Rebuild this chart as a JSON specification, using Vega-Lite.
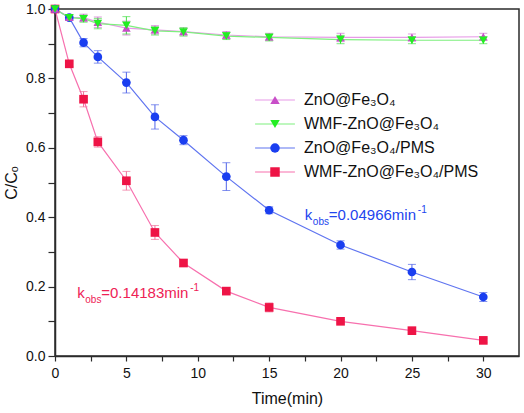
{
  "$schema": "https://vega.github.io/schema/vega-lite/v6.json",
  "width": 464,
  "height": 347,
  "autosize": "none",
  "padding": {"left": 55, "top": 9, "right": 5, "bottom": 57},
  "background": "white",
  "config": {
    "font": "Liberation Sans",
    "view": {"stroke": "#2b2b2b", "strokeWidth": 1.5},
    "axis": {
      "domainColor": "#2b2b2b", "domainWidth": 1.5,
      "tickColor": "#2b2b2b", "tickWidth": 1.2,
      "labelColor": "#111111", "titleColor": "#111111",
      "labelFont": "Liberation Sans", "titleFont": "Liberation Sans",
      "grid": false, "labelFontSize": 14, "titleFontSize": 16, "titleFontWeight": "normal"
    }
  },
  "datasets": {
    "d": [
      {"series": "WMF-ZnO@Fe₃O₄/PMS", "t": 0, "c": 1.0, "e": 0},
      {"series": "WMF-ZnO@Fe₃O₄/PMS", "t": 1, "c": 0.842, "e": 0.008},
      {"series": "WMF-ZnO@Fe₃O₄/PMS", "t": 2, "c": 0.74, "e": 0.022},
      {"series": "WMF-ZnO@Fe₃O₄/PMS", "t": 3, "c": 0.617, "e": 0.015},
      {"series": "WMF-ZnO@Fe₃O₄/PMS", "t": 5, "c": 0.505, "e": 0.027},
      {"series": "WMF-ZnO@Fe₃O₄/PMS", "t": 7, "c": 0.356, "e": 0.02},
      {"series": "WMF-ZnO@Fe₃O₄/PMS", "t": 9, "c": 0.268, "e": 0.01},
      {"series": "WMF-ZnO@Fe₃O₄/PMS", "t": 12, "c": 0.187, "e": 0.005},
      {"series": "WMF-ZnO@Fe₃O₄/PMS", "t": 15, "c": 0.14, "e": 0.013},
      {"series": "WMF-ZnO@Fe₃O₄/PMS", "t": 20, "c": 0.1, "e": 0.005},
      {"series": "WMF-ZnO@Fe₃O₄/PMS", "t": 25, "c": 0.073, "e": 0.005},
      {"series": "WMF-ZnO@Fe₃O₄/PMS", "t": 30, "c": 0.045, "e": 0.006},
      {"series": "ZnO@Fe₃O₄/PMS", "t": 0, "c": 1.0, "e": 0},
      {"series": "ZnO@Fe₃O₄/PMS", "t": 1, "c": 0.975, "e": 0.005},
      {"series": "ZnO@Fe₃O₄/PMS", "t": 2, "c": 0.903, "e": 0.012},
      {"series": "ZnO@Fe₃O₄/PMS", "t": 3, "c": 0.862, "e": 0.018},
      {"series": "ZnO@Fe₃O₄/PMS", "t": 5, "c": 0.788, "e": 0.03},
      {"series": "ZnO@Fe₃O₄/PMS", "t": 7, "c": 0.689, "e": 0.035},
      {"series": "ZnO@Fe₃O₄/PMS", "t": 9, "c": 0.622, "e": 0.013},
      {"series": "ZnO@Fe₃O₄/PMS", "t": 12, "c": 0.517, "e": 0.04},
      {"series": "ZnO@Fe₃O₄/PMS", "t": 15, "c": 0.42, "e": 0.01},
      {"series": "ZnO@Fe₃O₄/PMS", "t": 20, "c": 0.32, "e": 0.012},
      {"series": "ZnO@Fe₃O₄/PMS", "t": 25, "c": 0.242, "e": 0.022},
      {"series": "ZnO@Fe₃O₄/PMS", "t": 30, "c": 0.17, "e": 0.013},
      {"series": "ZnO@Fe₃O₄", "t": 0, "c": 1.0, "e": 0},
      {"series": "ZnO@Fe₃O₄", "t": 1, "c": 0.976, "e": 0.008},
      {"series": "ZnO@Fe₃O₄", "t": 2, "c": 0.975, "e": 0.01},
      {"series": "ZnO@Fe₃O₄", "t": 3, "c": 0.962, "e": 0.015},
      {"series": "ZnO@Fe₃O₄", "t": 5, "c": 0.945, "e": 0.02},
      {"series": "ZnO@Fe₃O₄", "t": 7, "c": 0.94, "e": 0.012},
      {"series": "ZnO@Fe₃O₄", "t": 9, "c": 0.935, "e": 0.01},
      {"series": "ZnO@Fe₃O₄", "t": 12, "c": 0.925, "e": 0.01},
      {"series": "ZnO@Fe₃O₄", "t": 15, "c": 0.92, "e": 0.01},
      {"series": "ZnO@Fe₃O₄", "t": 20, "c": 0.918, "e": 0.012},
      {"series": "ZnO@Fe₃O₄", "t": 25, "c": 0.918, "e": 0.01},
      {"series": "ZnO@Fe₃O₄", "t": 30, "c": 0.92, "e": 0.01},
      {"series": "WMF-ZnO@Fe₃O₄", "t": 0, "c": 1.0, "e": 0},
      {"series": "WMF-ZnO@Fe₃O₄", "t": 1, "c": 0.975, "e": 0.008},
      {"series": "WMF-ZnO@Fe₃O₄", "t": 2, "c": 0.972, "e": 0.01},
      {"series": "WMF-ZnO@Fe₃O₄", "t": 3, "c": 0.958, "e": 0.015},
      {"series": "WMF-ZnO@Fe₃O₄", "t": 5, "c": 0.953, "e": 0.025},
      {"series": "WMF-ZnO@Fe₃O₄", "t": 7, "c": 0.937, "e": 0.012},
      {"series": "WMF-ZnO@Fe₃O₄", "t": 9, "c": 0.934, "e": 0.012},
      {"series": "WMF-ZnO@Fe₃O₄", "t": 12, "c": 0.922, "e": 0.01},
      {"series": "WMF-ZnO@Fe₃O₄", "t": 15, "c": 0.918, "e": 0.01},
      {"series": "WMF-ZnO@Fe₃O₄", "t": 20, "c": 0.912, "e": 0.012},
      {"series": "WMF-ZnO@Fe₃O₄", "t": 25, "c": 0.91, "e": 0.01},
      {"series": "WMF-ZnO@Fe₃O₄", "t": 30, "c": 0.91, "e": 0.01}
    ],
    "notes": [
      {"grp": "blue", "t": 17.5, "c": 0.392, "k": "k", "sub": "obs", "main": "=0.04966min", "sup": "-1"},
      {"grp": "red", "t": 1.56, "c": 0.167, "k": "k", "sub": "obs", "main": "=0.14183min", "sup": "-1"}
    ]
  },
  "encoding": {
    "x": {
      "field": "t", "type": "quantitative",
      "scale": {"domain": [0, 32.5], "nice": false, "zero": false},
      "axis": {
        "title": "Time(min)",
        "values": [0, 2.5, 5, 7.5, 10, 12.5, 15, 17.5, 20, 22.5, 25, 27.5, 30],
        "labelExpr": "datum.value % 5 == 0 ? datum.label : ''",
        "tickSize": 5, "labelPadding": 5, "titlePadding": 10, "labelFlush": false
      }
    },
    "y": {
      "field": "c", "type": "quantitative",
      "scale": {"domain": [0, 1], "nice": false},
      "axis": {
        "title": "C/Cₒ",
        "values": [0, 0.1, 0.2, 0.3, 0.4, 0.5, 0.6, 0.7, 0.8, 0.9, 1.0],
        "labelExpr": "round(datum.value * 10) % 2 == 0 ? format(datum.value, '.1f') : ''",
        "tickSize": 7, "labelPadding": 3, "titlePadding": 6, "labelFlush": false
      }
    }
  },
  "layer": [
    {
      "data": {"name": "d"},
      "mark": {"type": "line", "strokeWidth": 1.2, "clip": false},
      "encoding": {
        "color": {
          "field": "series", "type": "nominal",
          "scale": {
            "domain": ["ZnO@Fe₃O₄", "WMF-ZnO@Fe₃O₄", "ZnO@Fe₃O₄/PMS", "WMF-ZnO@Fe₃O₄/PMS"],
            "range": ["#e79ae7", "#7ef07e", "#5f74f0", "#f770ae"]
          },
          "legend": {
            "title": null, "orient": "none", "legendX": 212, "legendY": 83,
            "padding": 0, "symbolType": "M-4.2,0H4.2", "symbolSize": 90,
            "symbolStrokeWidth": 1.2, "labelFontSize": 16, "labelOffset": 21,
            "labelOpacity": 0, "rowPadding": 8, "labelLimit": 300
          }
        }
      }
    },
    {
      "data": {"name": "d"},
      "mark": {"type": "errorbar", "ticks": {"size": 8}, "thickness": 1, "clip": false},
      "encoding": {
        "yError": {"field": "e"},
        "color": {
          "field": "series", "type": "nominal",
          "scale": {
            "domain": ["ZnO@Fe₃O₄", "WMF-ZnO@Fe₃O₄", "ZnO@Fe₃O₄/PMS", "WMF-ZnO@Fe₃O₄/PMS"],
            "range": ["#d070d0", "#44e044", "#5064e8", "#f0709a"]
          },
          "legend": null
        }
      }
    },
    {
      "data": {"name": "d"},
      "mark": {"type": "point", "filled": true, "size": 75, "opacity": 1, "clip": false},
      "encoding": {
        "color": {
          "field": "series", "type": "nominal",
          "scale": {
            "domain": ["ZnO@Fe₃O₄", "WMF-ZnO@Fe₃O₄", "ZnO@Fe₃O₄/PMS", "WMF-ZnO@Fe₃O₄/PMS"],
            "range": ["#c84ec8", "#22ee22", "#1a3ef0", "#ee1446"]
          },
          "legend": {
            "title": null, "orient": "none", "legendX": 212, "legendY": 83,
            "padding": 0, "symbolSize": 90, "labelFontSize": 16, "labelOffset": 21,
            "labelColor": "#111111", "rowPadding": 8, "symbolStrokeWidth": 0, "labelLimit": 300
          }
        },
        "shape": {
          "field": "series", "type": "nominal",
          "scale": {
            "domain": ["ZnO@Fe₃O₄", "WMF-ZnO@Fe₃O₄", "ZnO@Fe₃O₄/PMS", "WMF-ZnO@Fe₃O₄/PMS"],
            "range": ["triangle-up", "triangle-down", "circle", "square"]
          },
          "legend": {
            "title": null, "orient": "none", "legendX": 212, "legendY": 83,
            "padding": 0, "symbolSize": 90, "labelFontSize": 16, "labelOffset": 21,
            "labelColor": "#111111", "rowPadding": 8, "symbolStrokeWidth": 0, "labelLimit": 300
          }
        }
      }
    },
    {
      "data": {"name": "notes"},
      "encoding": {
        "color": {
          "field": "grp", "type": "nominal",
          "scale": {"domain": ["blue", "red"], "range": ["#2244ee", "#ee2255"]},
          "legend": null
        }
      },
      "layer": [
        {"mark": {"type": "text", "align": "left", "baseline": "alphabetic", "fontSize": 15, "clip": false},
         "encoding": {"text": {"field": "k"}}},
        {"mark": {"type": "text", "align": "left", "baseline": "alphabetic", "fontSize": 10, "dx": 8, "dy": 5, "clip": false},
         "encoding": {"text": {"field": "sub"}}},
        {"mark": {"type": "text", "align": "left", "baseline": "alphabetic", "fontSize": 15, "dx": 24, "clip": false},
         "encoding": {"text": {"field": "main"}}},
        {"mark": {"type": "text", "align": "left", "baseline": "alphabetic", "fontSize": 10, "dx": 113, "dy": -7, "clip": false},
         "encoding": {"text": {"field": "sup"}}}
      ]
    }
  ],
  "resolve": {"scale": {"color": "independent", "shape": "independent"}, "legend": {"color": "independent", "shape": "independent"}}
}
